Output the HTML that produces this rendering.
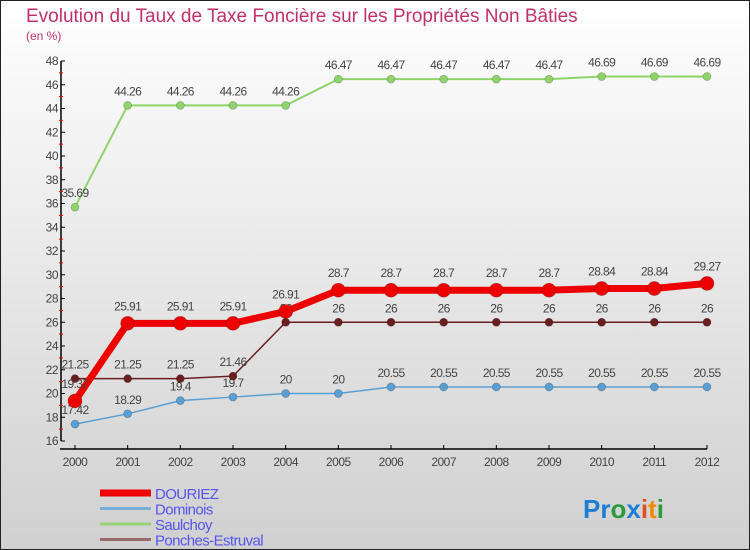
<!DOCTYPE html>
<html><head><meta charset="utf-8"><style>
body{margin:0}
svg{display:block;font-family:"Liberation Sans",sans-serif}
</style></head><body>
<svg id="c" width="750" height="550" viewBox="0 0 750 550">
<defs><linearGradient id="bg" x1="0" y1="0" x2="0" y2="1"><stop offset="0" stop-color="#ffffff"/><stop offset="1" stop-color="#d0d0d0"/></linearGradient></defs>
<rect x="0.5" y="0.5" width="749" height="549" fill="url(#bg)" stroke="#222"/>
<text x="26" y="22" font-size="19" fill="#c0306a">Evolution du Taux de Taxe Foncière sur les Propriétés Non Bâties</text>
<text x="26" y="40" font-size="12" fill="#c0306a">(en %)</text>
<g id="axes"></g>
<g id="series"></g>
<g id="legend"></g>
<text x="583" y="518" font-size="26" font-weight="bold"><tspan fill="#1a7fd4">Pr</tspan><tspan fill="#2a9a3a">o</tspan><tspan fill="#1a7fd4">x</tspan><tspan fill="#e05020">i</tspan><tspan fill="#f08a00">t</tspan><tspan fill="#2a9a3a">i</tspan></text>
</svg>
<script>
const years=[2000,2001,2002,2003,2004,2005,2006,2007,2008,2009,2010,2011,2012];
const yTicks=[16,18,20,22,24,26,28,30,32,34,36,38,40,42,44,46,48];
const douriez=[19.37,25.91,25.91,25.91,26.91,28.7,28.7,28.7,28.7,28.7,28.84,28.84,29.27];
const dominois=[17.42,18.29,19.4,19.7,20,20,20.55,20.55,20.55,20.55,20.55,20.55,20.55];
const saulchoy=[35.69,44.26,44.26,44.26,44.26,46.47,46.47,46.47,46.47,46.47,46.69,46.69,46.69];
const ponches=[21.25,21.25,21.25,21.46,26,26,26,26,26,26,26,26,26];
const NS="http://www.w3.org/2000/svg";
const X=i=>75+i*(707-75)/(years.length-1);
const Y=v=>441-(v-16)*(380/32);
function mk(tag,attrs,parent,txt){const e=document.createElementNS(NS,tag);for(const k in attrs)e.setAttribute(k,attrs[k]);if(txt!==undefined)e.textContent=txt;parent.appendChild(e);return e;}
const ax=document.getElementById('axes');
let e=mk('line',{x1:61,y1:Y(48),x2:61,y2:441,stroke:'#000','stroke-width':1.5},ax);


e=mk('line',{x1:60,y1:449,x2:707,y2:449,stroke:'#000','stroke-width':1.5},ax);


yTicks.forEach(t=>{
  mk('line',{x1:61,y1:Y(t),x2:65,y2:Y(t),stroke:'#000'},ax);
  if(t<48)mk('line',{x1:59,y1:Y(t+1),x2:63,y2:Y(t+1),stroke:'#e00'},ax);
  const l=mk('text',{x:58,y:Y(t)+4,'font-size':12,fill:'#444','text-anchor':'end','letter-spacing':'-0.5'},ax,t);
  
  
});
years.forEach((yr,i)=>{
  mk('line',{x1:X(i),y1:445,x2:X(i),y2:449,stroke:'#000'},ax);
  const l=mk('text',{x:X(i),y:466,'font-size':12,fill:'#444','text-anchor':'middle','letter-spacing':'-0.5'},ax,yr);
  
  
});
const sg=document.getElementById('series');
function series(vals,color,w,r,name,labelDy){
  const g=mk('g',{},sg);
  
  
  const p=mk('polyline',{points:vals.map((v,i)=>X(i)+','+Y(v)).join(' '),fill:'none',stroke:color,'stroke-width':w,'stroke-linejoin':'round'},g);
  
  
  vals.forEach((v,i)=>{
    const c=mk('circle',{cx:X(i),cy:Y(v),r:r,fill:color,stroke:'rgba(0,0,0,0.25)','stroke-width':0.7},g);
    
    
    const t=mk('text',{x:X(i),y:Y(v)+labelDy,'font-size':12,fill:'#444','text-anchor':'middle','letter-spacing':'-0.6'},g,String(v));
    
    
  });
}
series(saulchoy,'#8fd46a',2,4,'saulchoy',-10);
series(dominois,'#5a9fd4',1.5,4,'dominois',-10);
series(ponches,'#6b1e1e',1.5,4,'ponches-estruval',-10);
series(douriez,'#ee0000',7,7,'douriez',-13);
const lg=document.getElementById('legend');
const names=['DOURIEZ','Dominois','Saulchoy','Ponches-Estruval'];
const cols=['#ee0000','#7ab0d8','#9ad47a','#9a6a6a'];
const ws=[7,3,3,3];
names.forEach((n,i)=>{
  const y=493+i*15.5;
  const l=mk('line',{x1:100,y1:y,x2:151,y2:y,stroke:cols[i],'stroke-width':ws[i]},lg);
  
  
  const t=mk('text',{x:155,y:y+6,'font-size':15,fill:'#5555ee','letter-spacing':'-0.6'},lg,n);
  
  
});
</script>
</body></html>
